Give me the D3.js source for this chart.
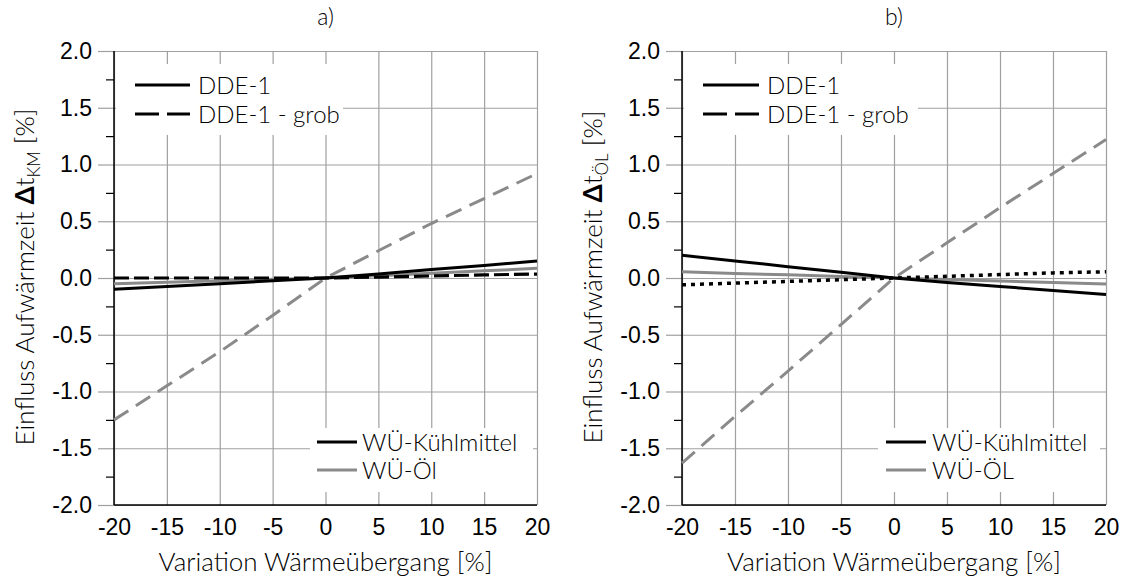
<!DOCTYPE html>
<html>
<head>
<meta charset="utf-8">
<script src="https://cdn.jsdelivr.net/npm/d3@7"></script>
<style>
    body { margin: 0; background: #fff; }
    svg { font-family: "Lato", "Open Sans", sans-serif; font-weight: 300; }
</style>
</head>
<body>
<div class="graph"></div>
<script>
// variation of the heat transfer coefficient [%]
var variation = [-20, -15, -10, -5, 0, 5, 10, 15, 20];
var xTicks = [-20, -15, -10, -5, 0, 5, 10, 15, 20];
var yTicks = [-2.0, -1.5, -1.0, -0.5, 0.0, 0.5, 1.0, 1.5, 2.0];
var yMinor = [-1.75, -1.25, -0.75, -0.25, 0.25, 0.75, 1.25, 1.75];

// a) influence on warm-up time of the coolant
var aDdeKm   = [-0.10, -0.075, -0.05, -0.025, 0, 0.035, 0.075, 0.11, 0.15];
var aDdeOel  = [-0.05, -0.037, -0.025, -0.012, 0, 0.02, 0.042, 0.063, 0.085];
var aGrobKm  = [0.0, 0.0, 0.0, 0.0, 0, 0.008, 0.018, 0.027, 0.035];
var aGrobOel = [-1.25, -0.95, -0.65, -0.33, 0, 0.24, 0.48, 0.70, 0.92];

// b) influence on warm-up time of the oil
var bDdeKm   = [0.20, 0.15, 0.10, 0.05, 0, -0.04, -0.075, -0.11, -0.145];
var bDdeOel  = [0.055, 0.04, 0.028, 0.014, 0, -0.013, -0.027, -0.04, -0.053];
var bGrobKm  = [-0.06, -0.045, -0.03, -0.015, 0, 0.015, 0.03, 0.045, 0.055];
var bGrobOel = [-1.63, -1.22, -0.82, -0.41, 0, 0.31, 0.62, 0.92, 1.22];

var black = "#000";
var grey = "#8a8a8a";
var gridColor = "#a0a0a0";

var svg = d3.select(".graph")
    .append("svg")
    .attr("width", 1126)
    .attr("height", 576);

function drawPanel(p) {
    var width = p.right - p.left;
    var height = p.bottom - p.top;

    var x = d3.scaleLinear().domain([-20, 20]).range([0, width]);
    var y = d3.scaleLinear().domain([-2, 2]).range([height, 0]);

    var g = svg.append("g")
        .attr("transform", "translate(" + p.left + "," + p.top + ")");

    // grid (horizontal, with the major ticks sticking out on the left)
    g.append("g")
        .attr("class", "grid")
        .call(d3.axisLeft(y).tickValues(yTicks).tickSize(-width).tickFormat(""))
        .call(function(s) { s.select(".domain").remove(); });
    g.append("g")
        .call(d3.axisLeft(y).tickValues(yTicks).tickSize(16).tickPadding(6)
            .tickSizeOuter(0)
            .tickFormat(function(d) { return d.toFixed(1); }))
        .call(function(s) {
            s.select(".domain").remove();
            s.selectAll("text").style("font-size", "23px").attr("fill", "#000")
                .style("font-family", null);
        });
    g.selectAll(".tick line").attr("stroke", gridColor).attr("stroke-width", 1.2);

    // vertical grid
    g.append("g")
        .attr("class", "vgrid")
        .attr("transform", "translate(0," + height + ")")
        .call(d3.axisBottom(x).tickValues(xTicks).tickSize(-height).tickFormat(""))
        .call(function(s) {
            s.select(".domain").remove();
            s.selectAll("line").attr("stroke", gridColor).attr("stroke-width", 1.2);
        });

    // legend boxes hide the grid behind them
    p.legends.forEach(function(lg) {
        g.append("rect")
            .attr("x", lg.box[0] - p.left)
            .attr("y", lg.box[1] - p.top)
            .attr("width", lg.box[2] - lg.box[0])
            .attr("height", lg.box[3] - lg.box[1])
            .attr("fill", "#fff");
    });

    // minor y ticks
    g.append("g")
        .call(d3.axisLeft(y).tickValues(yMinor).tickSize(8).tickFormat("").tickSizeOuter(0))
        .call(function(s) {
            s.select(".domain").remove();
            s.selectAll("line").attr("stroke", "#000").attr("stroke-width", 1.2);
        });

    // x axis labels
    g.append("g")
        .attr("transform", "translate(0," + height + ")")
        .call(d3.axisBottom(x).tickValues(xTicks).tickSize(0).tickPadding(14)
            .tickFormat(function(d) { return String(d); }))
        .call(function(s) {
            s.select(".domain").remove();
            s.selectAll("text").style("font-size", "23px").attr("fill", "#000")
                .style("font-family", null);
        });

    // black axis lines
    g.append("line").attr("x1", 0).attr("x2", 0).attr("y1", 0).attr("y2", height)
        .attr("stroke", "#000").attr("stroke-width", 1.5);
    g.append("line").attr("x1", 0).attr("x2", width).attr("y1", height).attr("y2", height)
        .attr("stroke", "#000").attr("stroke-width", 1.5);

    var line = d3.line()
        .x(function(d, i) { return x(variation[i]); })
        .y(function(d) { return y(d); });

    p.series.forEach(function(s) {
        g.append("path")
            .datum(s.values)
            .attr("d", line)
            .attr("fill", "none")
            .attr("stroke", s.color)
            .attr("stroke-width", s.width)
            .attr("stroke-dasharray", s.dash);
    });

    // legends
    p.legends.forEach(function(lg) {
        lg.items.forEach(function(it, i) {
            var yy = lg.rows[i] - p.top;
            g.append("line")
                .attr("x1", lg.line[0] - p.left).attr("x2", lg.line[1] - p.left)
                .attr("y1", yy).attr("y2", yy)
                .attr("stroke", it.color).attr("stroke-width", 3)
                .attr("stroke-dasharray", it.dash);
            g.append("text")
                .attr("x", lg.text - p.left)
                .attr("y", yy)
                .attr("dy", "0.36em")
                .style("font-size", "24px")
                .text(it.label);
        });
    });

    // panel title
    svg.append("text")
        .attr("x", p.left + width / 2)
        .attr("y", 25)
        .style("text-anchor", "middle")
        .style("font-size", "23px")
        .text(p.title);

    // x axis title
    svg.append("text")
        .attr("x", p.left + width / 2)
        .attr("y", 571)
        .style("text-anchor", "middle")
        .style("font-size", "26px")
        .text("Variation Wärmeübergang [%]");

    // y axis title
    var yt = svg.append("text")
        .attr("transform", "translate(" + (p.left - 80) + "," + (p.top + height / 2 - 1) + ") rotate(-90)")
        .style("text-anchor", "middle")
        .style("font-size", "26px");
    yt.append("tspan").text("Einfluss Aufwärmzeit ");
    yt.append("tspan").style("font-weight", 700).text("Δ");
    yt.append("tspan").text("t");
    yt.append("tspan").attr("dy", "6").style("font-size", "17px").text(p.sub);
    yt.append("tspan").attr("dy", "-6").text(" [%]");
}

var dashBlack = "15,5";
var dashGrey = "17,9";
var dashLegend = "24,8";

drawPanel({
    left: 114, right: 537, top: 51, bottom: 505,
    title: "a)", sub: "KM",
    series: [
        { values: aGrobOel, color: grey, width: 3, dash: dashGrey },
        { values: aDdeOel, color: grey, width: 3, dash: null },
        { values: aGrobKm, color: black, width: 3.2, dash: dashBlack },
        { values: aDdeKm, color: black, width: 3, dash: null }
    ],
    legends: [
        { box: [116, 64, 343, 135], line: [135, 190], text: 198, rows: [85, 114],
          items: [
              { label: "DDE-1", color: black, dash: null },
              { label: "DDE-1 - grob", color: black, dash: dashLegend }
          ] },
        { box: [310, 428, 533, 492], line: [317, 357], text: 362, rows: [442, 470],
          items: [
              { label: "WÜ-Kühlmittel", color: black, dash: null },
              { label: "WÜ-Öl", color: grey, dash: null }
          ] }
    ]
});

drawPanel({
    left: 682, right: 1106, top: 51, bottom: 505,
    title: "b)", sub: "ÖL",
    series: [
        { values: bGrobOel, color: grey, width: 3, dash: dashGrey },
        { values: bDdeOel, color: grey, width: 3, dash: null },
        { values: bGrobKm, color: black, width: 3.5, dash: "4,5" },
        { values: bDdeKm, color: black, width: 3, dash: null }
    ],
    legends: [
        { box: [684, 64, 918, 135], line: [703, 759], text: 767, rows: [85, 114],
          items: [
              { label: "DDE-1", color: black, dash: null },
              { label: "DDE-1 - grob", color: black, dash: dashLegend }
          ] },
        { box: [878, 428, 1100, 492], line: [886, 926], text: 932, rows: [442, 470],
          items: [
              { label: "WÜ-Kühlmittel", color: black, dash: null },
              { label: "WÜ-ÖL", color: grey, dash: null }
          ] }
    ]
});
</script>
</body>
</html>
